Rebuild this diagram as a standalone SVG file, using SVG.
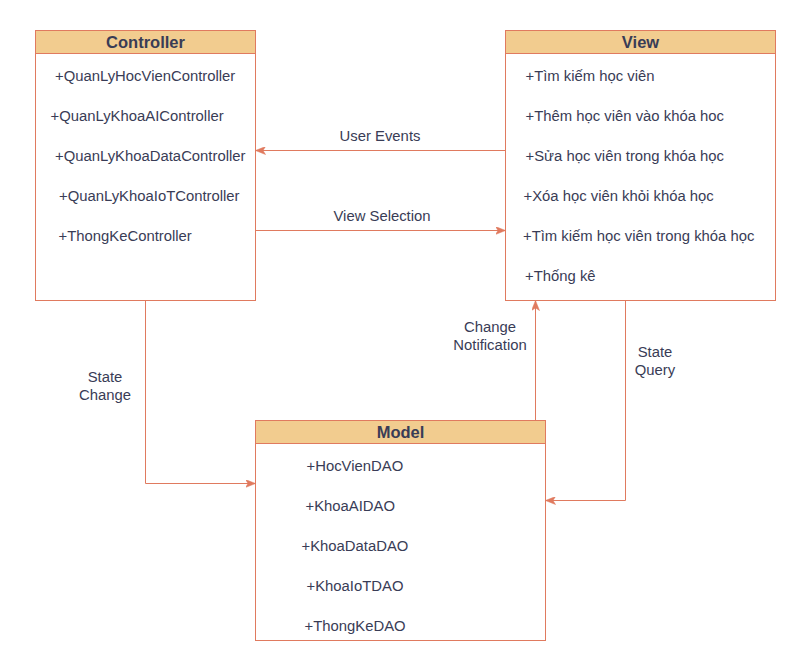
<svg xmlns="http://www.w3.org/2000/svg" width="806" height="671" viewBox="0 0 806 671">
<style>
.box{fill:#ffffff;stroke:#E07A5F;stroke-width:1}
.hdr{fill:#F2CC8F;stroke:#E07A5F;stroke-width:1}
.title{font-family:"Liberation Sans",Arial,sans-serif;font-weight:bold;font-size:16.5px;fill:#393C56;text-anchor:middle}
.item{font-family:"Liberation Sans",Arial,sans-serif;font-size:14.85px;fill:#393C56}
.lbl{font-family:"Liberation Sans",Arial,sans-serif;font-size:14.85px;fill:#393C56;text-anchor:middle}
.edge{fill:none;stroke:#E07A5F;stroke-width:1}
</style>
<defs>
<marker id="arr" viewBox="0 0 10 8" refX="9.5" refY="4" markerWidth="10" markerHeight="8" markerUnits="userSpaceOnUse" orient="auto">
<path d="M0,0 L10,4 L0,8 L2.5,4 Z" fill="#E07A5F" stroke="#E07A5F" stroke-width="0.5"/>
</marker>
</defs>
<rect width="806" height="671" fill="#ffffff"/>
<g id="controller">
<rect class="box" x="35.5" y="30.5" width="220" height="270"/>
<rect class="hdr" x="35.5" y="30.5" width="220" height="23"/>
<text class="title" x="145.5" y="47.5">Controller</text>
<text class="item" x="55" y="81">+QuanLyHocVienController</text>
<text class="item" x="50.5" y="121">+QuanLyKhoaAIController</text>
<text class="item" x="55" y="161">+QuanLyKhoaDataController</text>
<text class="item" x="59" y="201">+QuanLyKhoaIoTController</text>
<text class="item" x="58.5" y="241">+ThongKeController</text>
</g>
<g id="view">
<rect class="box" x="505.5" y="30.5" width="270" height="270"/>
<rect class="hdr" x="505.5" y="30.5" width="270" height="23"/>
<text class="title" x="640.5" y="47.5">View</text>
<text class="item" x="525.5" y="81">+Tìm kiếm học viên</text>
<text class="item" x="525.5" y="121">+Thêm học viên vào khóa hoc</text>
<text class="item" x="525.5" y="161">+Sửa học viên trong khóa học</text>
<text class="item" x="523.5" y="201">+Xóa học viên khỏi khóa học</text>
<text class="item" x="523" y="241">+Tìm kiếm học viên trong khóa học</text>
<text class="item" x="525" y="281">+Thống kê</text>
</g>
<g id="model">
<rect class="box" x="255.5" y="420.5" width="290" height="220"/>
<rect class="hdr" x="255.5" y="420.5" width="290" height="23"/>
<text class="title" x="400.5" y="437.5">Model</text>
<text class="item" x="306.5" y="471">+HocVienDAO</text>
<text class="item" x="305.5" y="511">+KhoaAIDAO</text>
<text class="item" x="301.5" y="551">+KhoaDataDAO</text>
<text class="item" x="306.5" y="591">+KhoaIoTDAO</text>
<text class="item" x="304.5" y="631">+ThongKeDAO</text>
</g>
<g id="connectors">
<path class="edge" d="M505.5,150.5 L256,150.5" marker-end="url(#arr)"/>
<path class="edge" d="M255.5,230.5 L505,230.5" marker-end="url(#arr)"/>
<path class="edge" d="M145.5,300.5 L145.5,483.5 L255,483.5" marker-end="url(#arr)"/>
<path class="edge" d="M535.5,420.5 L535.5,301" marker-end="url(#arr)"/>
<path class="edge" d="M625.5,300.5 L625.5,500.5 L546,500.5" marker-end="url(#arr)"/>
<text class="lbl" x="380" y="141">User Events</text>
<text class="lbl" x="382" y="221">View Selection</text>
<text class="lbl" x="105" y="382">State</text>
<text class="lbl" x="105" y="400">Change</text>
<text class="lbl" x="490" y="332">Change</text>
<text class="lbl" x="490" y="350">Notification</text>
<text class="lbl" x="655" y="357">State</text>
<text class="lbl" x="655" y="375">Query</text>
</g>
</svg>
